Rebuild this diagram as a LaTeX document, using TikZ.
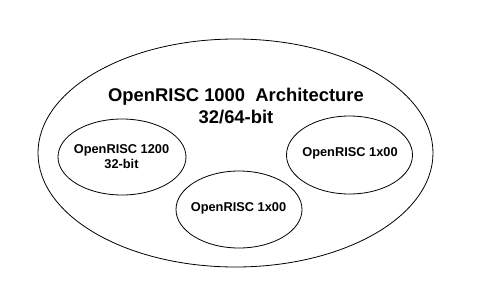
\documentclass[tikz,border=0pt]{standalone}
\usepackage{fontspec}
\setmainfont{Liberation Sans}
\usetikzlibrary{shapes.geometric}
\begin{document}
\begin{tikzpicture}[x=1pt,y=-1pt,
  ring/.style={draw=black,line width=0.8pt},
  title/.style={font=\bfseries\fontsize{18.4}{21.5}\selectfont,align=center},
  core/.style={font=\bfseries\fontsize{12.8}{15}\selectfont,align=center}]
  \useasboundingbox[fill=white] (0,0) rectangle (484,292);
  % outer architecture ellipse
  \draw[ring] (235.5,153) ellipse [x radius=197.5, y radius=114];
  % implementation ellipses
  \draw[ring] (122,157) ellipse [x radius=64, y radius=38];
  \draw[ring] (239,209.5) ellipse [x radius=63, y radius=38.5];
  \draw[ring] (349.5,155) ellipse [x radius=63, y radius=39];
  % labels
  \node[title] (arch) at (236,106) {OpenRISC 1000\ \ Architecture\\32/64-bit};
  \node[core] (or1200) at (121.5,156.5) {OpenRISC 1200\\32-bit};
  \node[core] (orb) at (238.5,208) {OpenRISC 1x00};
  \node[core] (orr) at (350,153) {OpenRISC 1x00};
\end{tikzpicture}
\end{document}
